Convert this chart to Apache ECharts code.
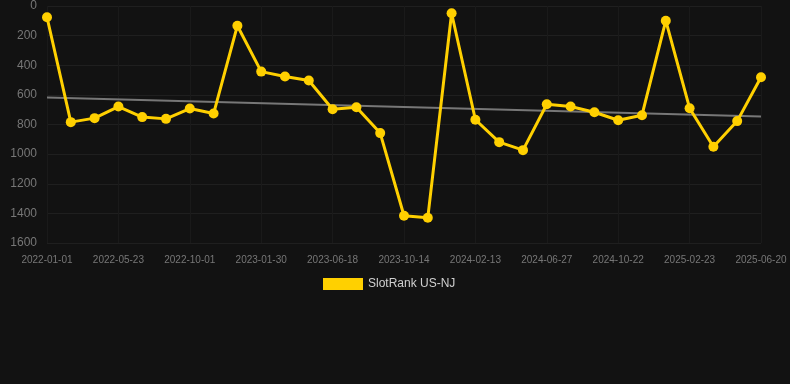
<!DOCTYPE html>
<html>
<head>
<meta charset="utf-8">
<script src="https://cdn.jsdelivr.net/npm/echarts@6/dist/echarts.min.js"></script>
<style>
html,body{margin:0;padding:0;background:#121212;}
#main{width:790px;height:384px;}
</style>
</head>
<body>
<div id="main"></div>
<script>
var dates = ['2022-01-01','2022-02-16','2022-04-04','2022-05-23','2022-07-05','2022-08-17','2022-10-01','2022-11-14','2022-12-20','2023-01-30','2023-03-16','2023-05-02','2023-06-18','2023-08-01','2023-09-05','2023-10-14','2023-11-28','2024-01-02','2024-02-13','2024-03-28','2024-05-14','2024-06-27','2024-08-08','2024-09-16','2024-10-22','2024-12-05','2025-01-14','2025-02-23','2025-04-06','2025-05-12','2025-06-20'];
var rank = [76,784,757,679,750,762,692,726,133,443,476,503,697,683,858,1416,1429,49,768,919,973,663,679,717,771,737,99,690,950,777,481];
var trendStart = 618;
var trendEnd = 746;

var trend = [];
for (var i = 0; i < dates.length; i++) {
	trend.push(null);
}
trend[0] = trendStart;
trend[dates.length - 1] = trendEnd;

var myChart = echarts.init(document.getElementById('main'));
var option = {
	backgroundColor: '#121212',
	animation: false,
	grid: {
		left: 47,
		right: 29,
		top: 6,
		bottom: 141
	},
	legend: {
		data: [{name: 'SlotRank US-NJ', icon: 'rect'}],
		top: 273,
		left: 318,
		itemWidth: 40,
		itemHeight: 12,
		textStyle: {
			color: '#d0d0d0',
			fontSize: 12,
			fontFamily: 'Liberation Sans, Arial, sans-serif'
		}
	},
	xAxis: {
		type: 'category',
		data: dates,
		boundaryGap: false,
		axisLine: {show: false},
		axisTick: {show: false},
		axisLabel: {
			interval: 2,
			color: '#777',
			fontSize: 10,
			margin: 12,
			fontFamily: 'Liberation Sans, Arial, sans-serif'
		},
		splitLine: {
			show: true,
			interval: 2,
			lineStyle: {color: '#1a1a1a', width: 1}
		}
	},
	yAxis: {
		type: 'value',
		inverse: true,
		min: 0,
		max: 1600,
		interval: 200,
		axisLine: {show: false},
		axisTick: {show: false},
		axisLabel: {
			color: '#777',
			fontSize: 12,
			margin: 10,
			fontFamily: 'Liberation Sans, Arial, sans-serif',
			formatter: function (v) { return String(v); }
		},
		splitLine: {
			lineStyle: {color: '#1f1f1f', width: 1}
		}
	},
	series: [
		{
			name: 'SlotRank US-NJ',
			type: 'line',
			data: rank,
			symbol: 'circle',
			symbolSize: 10,
			itemStyle: {color: '#FFD000'},
			lineStyle: {color: '#FFD000', width: 3},
			z: 3
		},
		{
			name: 'trend',
			type: 'line',
			data: trend,
			connectNulls: true,
			symbol: 'none',
			lineStyle: {color: '#777', width: 2},
			z: 2
		}
	]
};
myChart.setOption(option);
</script>
</body>
</html>
